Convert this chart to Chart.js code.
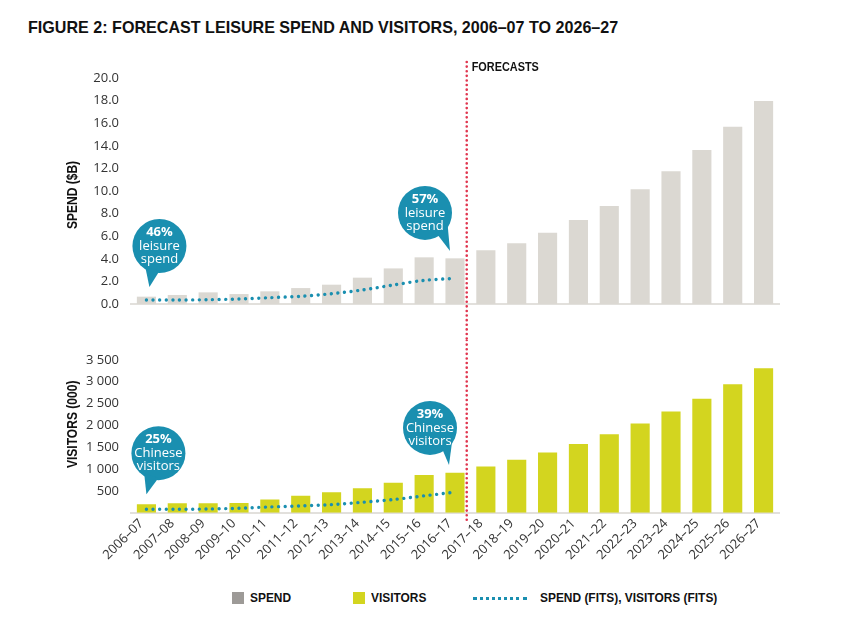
<!DOCTYPE html>
<html><head><meta charset="utf-8">
<script src="https://cdn.jsdelivr.net/npm/chart.js@4/dist/chart.umd.min.js"></script>
<style>
body{margin:0;background:#fff;width:865px;height:619px;position:relative;overflow:hidden;font-family:"Open Sans",sans-serif}
.cond{font-family:"Liberation Sans",Arial,sans-serif;font-weight:bold;color:#111;transform-origin:0 50%;white-space:nowrap;position:absolute}
#title{left:28px;top:18px;font-size:17px}
#topWrap{position:absolute;left:0;top:50px;width:865px;height:290px}
#botWrap{position:absolute;left:0;top:340px;width:865px;height:240px}
.sw{position:absolute;width:12px;height:12px;top:592px}
.lt{top:590px;font-size:13px}
#dots{position:absolute;left:473px;top:597px;width:54px;border-top:3px dotted #1a8fb0}
</style></head>
<body>
<div id="title" class="cond">FIGURE 2: FORECAST LEISURE SPEND AND VISITORS, 2006–07 TO 2026–27</div>
<div id="topWrap"><canvas id="c1"></canvas></div>
<div id="botWrap"><canvas id="c2"></canvas></div>
<div class="sw" style="left:232px;background:#9d9a97"></div>
<div class="lt cond" id="l1" style="left:250px">SPEND</div>
<div class="sw" style="left:353px;background:#d3d51f"></div>
<div class="lt cond" id="l2" style="left:371px">VISITORS</div>
<div id="dots"></div>
<div class="lt cond" id="l3" style="left:540px">SPEND (FITS), VISITORS (FITS)</div>
<script>
const categories = ['2006–07','2007–08','2008–09','2009–10','2010–11','2011–12','2012–13','2013–14','2014–15','2015–16','2016–17','2017–18','2018–19','2019–20','2020–21','2021–22','2022–23','2023–24','2024–25','2025–26','2026–27'];
const spend = [0.65,0.8,1.03,0.88,1.12,1.41,1.71,2.33,3.15,4.13,4.04,4.75,5.37,6.31,7.43,8.67,10.15,11.74,13.63,15.69,17.96];
const spendFits = [0.35,0.35,0.38,0.44,0.56,0.68,0.91,1.24,1.68,2.09,2.27,null,null,null,null,null,null,null,null,null,null];
const visitors = [196,219,219,226,304,388,473,565,688,865,919,1057,1212,1380,1573,1796,2042,2319,2612,2942,3304];
const visitorFits = [81,81,88,104,135,158,188,242,304,389,473,null,null,null,null,null,null,null,null,null,null];
const spendTicks = {min:0,max:20,step:2};
const visitorTicks = {min:0,max:3500,step:500};

const TEAL='#1a8fb0', GREY='#dbd8d2', YEL='#d3d51f', RED='#e0364f';
const CONDF='"Liberation Sans",Arial,sans-serif';
const TICKFONT={family:'"Open Sans",sans-serif',size:13};

// condense HTML headings to the reference widths
(function(){
  const t=document.getElementById('title');t.style.transform='scaleX('+(590/t.offsetWidth)+')';
  const l3=document.getElementById('l3');const s=177/l3.offsetWidth;
  ['l1','l2','l3'].forEach(id=>document.getElementById(id).style.transform='scaleX('+s+')');
})();

function condText(ctx,text,x,y,size,sx,rot){
  ctx.save();ctx.translate(x,y);if(rot)ctx.rotate(rot);ctx.scale(sx,1);
  ctx.font='bold '+size+'px '+CONDF;ctx.fillText(text,0,0);ctx.restore();
}
const forecastPlugin={
  id:'forecast',
  afterDatasetsDraw(chart,args,o){
    const ctx=chart.ctx, x=chart.scales.x.getPixelForValue(o.value);
    const y0=o.fromTop, y1=o.toArea?chart.chartArea.bottom+o.extra:chart.height;
    ctx.save();ctx.strokeStyle=RED;ctx.lineWidth=2.6;ctx.lineCap='round';ctx.setLineDash([0.01,4.6]);
    ctx.beginPath();ctx.moveTo(x,y0);ctx.lineTo(x,y1);ctx.stroke();
    if(o.label){ctx.fillStyle='#111';ctx.textBaseline='middle';ctx.textAlign='left';condText(ctx,o.label,x+5,o.labelY,12.5,0.87,0);}
    ctx.restore();
  }
};
const ytitlePlugin={
  id:'ytitle',
  afterDraw(chart,args,o){
    const ctx=chart.ctx,a=chart.chartArea;
    ctx.save();ctx.fillStyle='#111';ctx.textAlign='center';ctx.textBaseline='middle';
    condText(ctx,o.text,o.x,(a.top+a.bottom)/2+o.dy,14,0.86,-Math.PI/2);
    ctx.restore();
  }
};
const calloutPlugin={
  id:'callouts',
  afterDatasetsDraw(chart,args,o){
    const ctx=chart.ctx, xs=chart.scales.x, ys=chart.scales.y;
    (o.items||[]).forEach(it=>{
      const tx=xs.getPixelForValue(it.index)+it.tipDx, ty=ys.getPixelForValue(it.tipValue);
      const cx=tx+it.dx, cy=ty+it.dy, r=27;
      ctx.save();ctx.fillStyle=TEAL;
      ctx.beginPath();ctx.arc(cx,cy,r,0,Math.PI*2);ctx.fill();
      const a1=it.a1*Math.PI/180,a2=it.a2*Math.PI/180;
      ctx.beginPath();ctx.moveTo(cx+r*0.92*Math.cos(a1),cy+r*0.92*Math.sin(a1));ctx.lineTo(tx,ty);ctx.lineTo(cx+r*0.92*Math.cos(a2),cy+r*0.92*Math.sin(a2));ctx.closePath();ctx.fill();
      ctx.fillStyle='#fff';ctx.textAlign='center';ctx.textBaseline='middle';
      ctx.font='bold 13px "Open Sans",sans-serif';ctx.fillText(it.lines[0],cx,cy-14);
      ctx.font='13px "Open Sans",sans-serif';ctx.fillText(it.lines[1],cx,cy);ctx.fillText(it.lines[2],cx,cy+13);
      ctx.restore();
    });
  }
};
function fmtSpace(v){return String(v).replace(/\B(?=(\d{3})+(?!\d))/g,' ');}
function yAxis(t,cb){
  return {min:t.min,max:t.max,
    ticks:{stepSize:t.step,font:TICKFONT,color:'#333',padding:12,callback:cb},
    grid:{display:false,drawTicks:false},border:{display:false},
    afterFit(s){s.width=66;}};
}
function xAxis(showLabels){
  return {offset:true,
    ticks:{display:showLabels,font:{family:'"Open Sans",sans-serif',size:13},color:'#333',maxRotation:45,minRotation:45,autoSkip:false,labelOffset:-5,padding:3},
    grid:{display:false,drawTicks:false},border:{display:true,color:'#e2e0dc',width:2}};
}
function barDs(label,data,color){return {type:'bar',label,data,backgroundColor:color,barPercentage:0.62,categoryPercentage:1,order:2};}
function fitDs(label,data){return {type:'line',label,data,borderColor:TEAL,borderWidth:3.4,borderCapStyle:'round',borderDash:[0.01,6.6],pointRadius:0,fill:false,tension:0.3,order:1,spanGaps:false};}
const common={responsive:true,maintainAspectRatio:false,animation:false,events:[]};

new Chart(document.getElementById('c1'),{
  type:'bar',
  data:{labels:categories,datasets:[fitDs('Spend (fits)',spendFits),barDs('Spend',spend,GREY)]},
  options:Object.assign({},common,{
    layout:{padding:{left:65,right:86,top:28,bottom:36}},
    scales:{x:xAxis(false),y:yAxis(spendTicks,v=>v.toFixed(1))},
    plugins:{legend:{display:false},tooltip:{enabled:false},
      ytitle:{text:'SPEND ($B)',x:73,dy:4},
      forecast:{value:10.38,fromTop:12,toArea:false,label:'FORECASTS',labelY:18},
      callouts:{items:[
        {index:0,tipDx:3,tipValue:1.5,dx:10,dy:-41,a1:90,a2:125,lines:['46%','leisure','spend']},
        {index:10,tipDx:-5,tipValue:4.7,dx:-25,dy:-38,a1:25,a2:60,lines:['57%','leisure','spend']}]}}
  }),
  plugins:[forecastPlugin,calloutPlugin,ytitlePlugin]
});
new Chart(document.getElementById('c2'),{
  type:'bar',
  data:{labels:categories,datasets:[fitDs('Visitors (fits)',visitorFits),barDs('Visitors',visitors,YEL)]},
  options:Object.assign({},common,{
    layout:{padding:{left:65,right:86,top:14,bottom:14}},
    scales:{x:xAxis(true),y:yAxis(visitorTicks,v=>v===0?'':fmtSpace(v))},
    plugins:{legend:{display:false},tooltip:{enabled:false},
      ytitle:{text:'VISITORS (000)',x:73,dy:-12},
      forecast:{value:10.38,fromTop:0,toArea:true,extra:7},
      callouts:{items:[
        {index:0,tipDx:0,tipValue:427,dx:12,dy:-41,a1:90,a2:125,lines:['25%','Chinese','visitors']},
        {index:10,tipDx:-6,tipValue:1096,dx:-19,dy:-37,a1:25,a2:60,lines:['39%','Chinese','visitors']}]}}
  }),
  plugins:[forecastPlugin,calloutPlugin,ytitlePlugin]
});
</script>
</body></html>
